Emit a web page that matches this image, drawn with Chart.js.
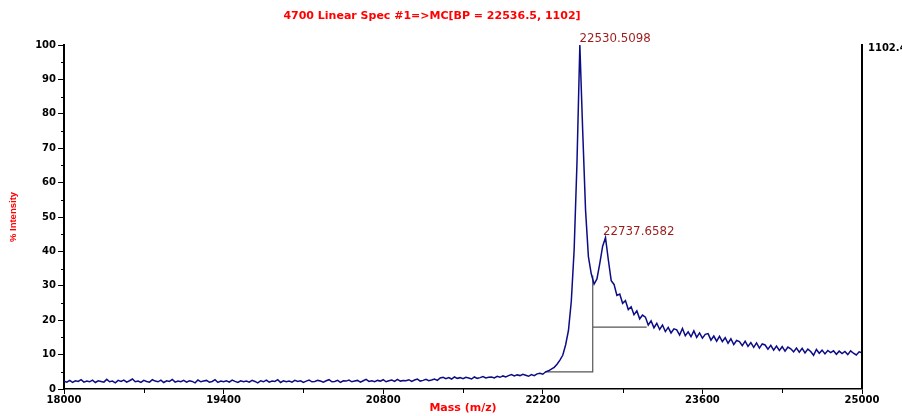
<!DOCTYPE html>
<html>
<head>
<meta charset="utf-8">
<script src="https://cdn.jsdelivr.net/npm/chart.js@4.4.0/dist/chart.umd.min.js"></script>
<style>
    html, body { margin: 0; padding: 0; background: #fff; }
</style>
</head>
<body>
<canvas id="grafico-espectro" width="902" height="416"></canvas>
<script>
// Espectro - amostras a cada 25 Da a partir de 18000
const massStart = 18000;
const massStep = 25;
const intensity = [
    2.3, 2.0, 2.5, 1.9, 2.4, 2.2, 2.7, 2.0, 2.3, 2.1,
    2.6, 1.9, 2.4, 2.2, 2.0, 2.8, 2.1, 2.3, 1.8, 2.5,
    2.2, 2.6, 2.0, 2.4, 2.9, 2.1, 2.3, 1.9, 2.5, 2.2,
    2.0, 2.7, 2.3, 2.1, 2.6, 1.9, 2.4, 2.2, 2.8, 2.0,
    2.3, 2.1, 2.5, 2.0, 2.4, 2.2, 1.8, 2.6, 2.1, 2.3,
    2.5, 2.0, 2.2, 2.7, 1.9, 2.3, 2.1, 2.4, 2.0, 2.6,
    2.2, 1.9, 2.4, 2.1, 2.3, 2.0, 2.5, 2.2, 1.8, 2.4,
    2.1, 2.6, 2.0, 2.3, 2.2, 2.7, 1.9, 2.4, 2.1, 2.3,
    2.0, 2.5, 2.2, 2.4, 1.9, 2.3, 2.6, 2.1, 2.2, 2.5,
    2.3, 2.0, 2.4, 2.7, 2.1, 2.2, 2.5, 1.9, 2.4, 2.3,
    2.6, 2.1, 2.3, 2.5, 2.0, 2.4, 2.8, 2.2, 2.4, 2.1,
    2.5, 2.3, 2.7, 2.1, 2.4, 2.6, 2.2, 2.8, 2.3, 2.5,
    2.4, 2.7, 2.2, 2.6, 2.9, 2.3, 2.5, 2.8, 2.4, 2.6,
    2.9, 2.5, 3.2, 3.4, 3.0, 3.3, 2.9, 3.5, 3.1, 3.3,
    3.0, 3.4, 3.2, 2.9, 3.5, 3.1, 3.3, 3.6, 3.2, 3.4,
    3.5, 3.2, 3.7, 3.4, 3.8, 3.5, 3.9, 4.2, 3.8, 4.1,
    3.9, 4.3, 4.0, 3.7, 4.2, 3.9, 4.4, 4.6, 4.3, 5.0,
    5.3, 5.8, 6.3, 7.2, 8.4, 9.8, 12.8, 17.0, 25.5, 40.5,
    66.0, 100.0, 75.0, 52.0, 38.5, 33.5, 30.5, 32.0, 36.5, 41.5,
    44.0, 37.5, 31.5, 30.4, 27.2, 27.6, 24.9, 25.7, 23.1, 23.9,
    21.6, 22.7, 20.4, 21.5, 20.9, 18.6, 19.8, 17.8, 19.1, 17.3,
    18.6, 16.7, 17.9, 16.3, 17.5, 17.2, 15.7, 17.6, 15.5, 16.6,
    15.2, 16.9, 15.0, 16.3, 14.8, 15.9, 16.1, 14.2, 15.4, 13.9,
    15.3, 13.8, 14.9, 13.3, 14.6, 12.9, 14.1, 13.8, 12.6, 13.9,
    12.4, 13.5, 12.1, 13.4, 11.9, 13.1, 12.8, 11.6, 12.7, 11.3,
    12.5, 11.2, 12.3, 11.0, 12.2, 11.7, 10.8, 11.9, 10.7, 11.8,
    10.5, 11.6, 10.9, 9.8, 11.5, 10.4, 11.3, 10.2, 11.2, 10.6,
    11.1, 10.1, 11.0, 10.3, 10.9, 10.0, 11.1, 10.4, 9.9, 10.8, 10.5
];

// Picos rotulados
const peakMass = [22530.5, 22737.7];
const peakHeight = [100, 44];
const peakLabels = ['22530.5098', '22737.6582'];

// Linhas de base dos picos (cinza)
const baseMarkX = [22219, 22638, 22638, 22638, 23111, 22638, 22638];
const baseMarkY = [5, 5, 33, null, 18, 18, 33];

// Eixos
const xTicks = [18000, 19400, 20800, 22200, 23600, 25000];
const xMinorTicks = [18700, 20100, 21500, 22900, 24300];
const yTicks = [0, 10, 20, 30, 40, 50, 60, 70, 80, 90, 100];
const yMinorTicks = [5, 15, 25, 35, 45, 55, 65, 75, 85, 95];

const chartTitle = '4700 Linear Spec #1=>MC[BP = 22536.5, 1102]';
const rightLabel = '1102.4';

const spectrum = intensity.map((v, i) => ({ x: massStart + i * massStep, y: v }));
const baseMarks = baseMarkX.map((x, i) => ({ x: x, y: baseMarkY[i] }));

const extras = {
    id: 'extras',
    afterDraw(chart) {
        const ctx = chart.ctx;
        const area = chart.chartArea;
        const xs = chart.scales.x;
        const ys = chart.scales.y;
        ctx.save();

        // marcas menores
        ctx.strokeStyle = '#000';
        ctx.lineWidth = 1;
        ctx.beginPath();
        yMinorTicks.forEach(v => {
            const py = Math.round(ys.getPixelForValue(v)) + 0.5;
            ctx.moveTo(area.left - 3, py);
            ctx.lineTo(area.left, py);
        });
        xMinorTicks.forEach(v => {
            const px = Math.round(xs.getPixelForValue(v)) + 0.5;
            ctx.moveTo(px, area.bottom);
            ctx.lineTo(px, area.bottom + 4);
        });
        ctx.stroke();

        // eixo da direita
        ctx.lineWidth = 2;
        ctx.beginPath();
        ctx.moveTo(area.right, area.top - 1);
        ctx.lineTo(area.right, area.bottom);
        ctx.stroke();

        ctx.fillStyle = '#000';
        ctx.font = 'bold 10px "DejaVu Sans"';
        ctx.textAlign = 'left';
        ctx.textBaseline = 'middle';
        ctx.fillText(rightLabel, area.right + 6, area.top + 3);

        // titulo
        ctx.fillStyle = '#ff0000';
        ctx.font = 'bold 11px "DejaVu Sans"';
        ctx.textAlign = 'center';
        ctx.fillText(chartTitle, 432, 16);

        // rotulos dos picos
        ctx.fillStyle = '#9b1b1b';
        ctx.font = '11.8px "DejaVu Sans"';
        ctx.textAlign = 'left';
        ctx.textBaseline = 'alphabetic';
        peakMass.forEach((m, i) => {
            const px = xs.getPixelForValue(m);
            const py = ys.getPixelForValue(peakHeight[i]);
            ctx.fillText(peakLabels[i], px - 1, py - 3);
        });
        ctx.restore();
    }
};

new Chart(document.getElementById('grafico-espectro').getContext('2d'), {
    type: 'line',
    data: {
        datasets: [{
            label: 'Espectro',
            data: spectrum,
            borderColor: '#0c0c86',
            borderWidth: 1.5,
            pointRadius: 0,
            tension: 0,
            fill: false
        },
        {
            label: 'Base',
            data: baseMarks,
            borderColor: '#555',
            borderWidth: 1.2,
            pointRadius: 0,
            spanGaps: false,
            fill: false
        }]
    },
    options: {
        responsive: false,
        animation: false,
        events: [],
        layout: { padding: { top: 45, right: 40, left: 0, bottom: 0 } },
        plugins: {
            legend: { display: false },
            tooltip: { enabled: false }
        },
        scales: {
            x: {
                type: 'linear',
                min: 18000,
                max: 25000,
                afterFit: s => { s.height = 27; },
                afterBuildTicks: s => { s.ticks = xTicks.map(v => ({ value: v })); },
                grid: { drawOnChartArea: false, drawTicks: true, tickLength: 5, color: '#000' },
                border: { display: true, color: '#000', width: 1.5 },
                ticks: {
                    color: '#000',
                    font: { family: 'DejaVu Sans', weight: 'bold', size: 10 },
                    padding: 0,
                    maxRotation: 0,
                    autoSkip: false,
                    callback: v => String(v)
                },
                title: {
                    display: true,
                    text: 'Mass (m/z)',
                    color: '#ff0000',
                    font: { family: 'DejaVu Sans', weight: 'bold', size: 11 },
                    padding: { top: 0, bottom: 1 }
                }
            },
            y: {
                min: 0,
                max: 100,
                afterFit: s => { s.width = 64; },
                afterBuildTicks: s => { s.ticks = yTicks.map(v => ({ value: v })); },
                grid: { drawOnChartArea: false, drawTicks: true, tickLength: 6, color: '#000' },
                border: { display: true, color: '#000', width: 2 },
                ticks: {
                    color: '#000',
                    font: { family: 'DejaVu Sans', weight: 'bold', size: 10 },
                    padding: 2,
                    autoSkip: false
                },
                title: {
                    display: true,
                    text: '% Intensity',
                    color: '#ff0000',
                    font: { family: 'Liberation Sans', weight: 'bold', size: 9.5 },
                    padding: { top: 8, bottom: 0 }
                }
            }
        }
    },
    plugins: [extras]
});
</script>
</body>
</html>
